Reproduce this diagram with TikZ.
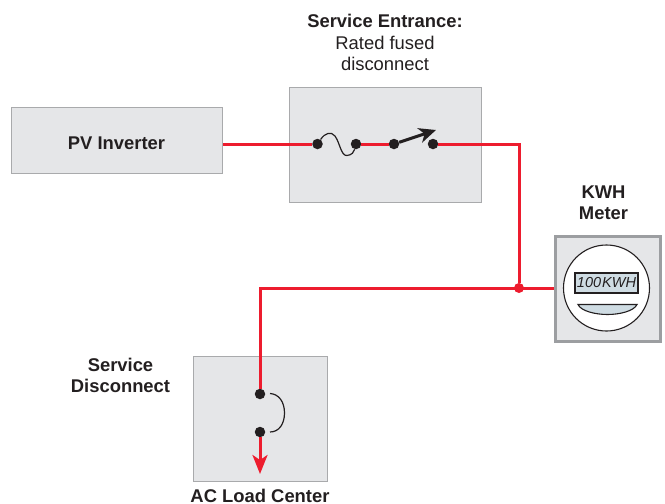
\documentclass[tikz,border=0pt]{standalone}
\usepackage{fontspec}
\setmainfont{Liberation Sans}
\usetikzlibrary{arrows.meta,calc}
\definecolor{boxfill}{HTML}{E5E6E8}
\definecolor{boxline}{HTML}{A9AAAC}
\definecolor{meterline}{HTML}{9C9EA1}
\definecolor{wire}{HTML}{ED1C2E}
\definecolor{lcd}{HTML}{CFDCE3}
\definecolor{ink}{HTML}{231F20}
\tikzset{
  panel/.style={draw=boxline,fill=boxfill,line width=1.4pt,inner sep=0pt,anchor=north west},
  dot/.style={circle,fill=ink,inner sep=0pt,minimum size=10.5pt},
  wireline/.style={draw=wire,line width=3pt},
  lab/.style={font=\fontsize{18.4}{21}\selectfont,text=ink,align=center,inner sep=0pt},
  blab/.style={lab,font=\fontsize{18.4}{21}\selectfont\bfseries},
}
\begin{document}
\begin{tikzpicture}[x=1pt,y=-1pt]
\useasboundingbox (0,0) rectangle (665,504);
% boxes
\node[panel,minimum width=211pt,minimum height=66pt] (pv) at (10.5,106.5) {};
\node[blab] at (116.5,143.5) {PV Inverter};
\node[panel,minimum width=192pt,minimum height=115pt] (se) at (288.5,86.5) {};
\node[panel,draw=meterline,line width=3pt,minimum width=105pt,minimum height=105pt] (meter) at (553.8,235) {};
\node[panel,minimum width=134pt,minimum height=125pt] (ac) at (192.5,355.5) {};
% anchors
\node[dot] (f1) at (317.5,144) {};
\node[dot] (f2) at (356,144) {};
\node[dot] (s1) at (394,144) {};
\node[dot] (s2) at (433,144) {};
\node[dot] (d1) at (260,394) {};
\node[dot] (d2) at (260,432) {};
\node[circle,fill=wire,inner sep=0pt,minimum size=10pt] (j) at (519,288) {};
\coordinate (tip) at (260,474);
% wires
\draw[wireline] (pv.east |- f1) -- (f1);
\draw[wireline] (f2) -- (s1);
\draw[wireline] (s2) -- (519,144) -- (j);
\draw[wireline] (meter.west |- j) -- (260,288) -- (d1);
\draw[draw=wire,line width=3pt,-{Stealth[length=19pt,width=15pt,inset=5pt]}] (d2) -- (tip);
% fuse
\draw[ink,line width=1.2pt] (f1) .. controls (325,133) and (331,131) .. (335,136)
  .. controls (340,143) and (341,156) .. (347,155.5)
  .. controls (352,155) and (354,152) .. (f2);
% switch
\draw[ink,line width=3pt,-{Stealth[length=17pt,width=15pt,inset=5pt]}] (s1) -- (436,130);
% link in disconnect
\draw[ink,line width=1.2pt] (270,393.5) .. controls (279,394) and (284.5,402) .. (284.5,413)
  .. controls (284.5,424) and (279,432) .. (270,432);
% meter
\node[circle,draw=ink,fill=white,line width=1.1pt,inner sep=0pt,minimum size=86pt] (dial) at (606.5,288) {};
\node[draw=ink,fill=lcd,line width=1.1pt,inner sep=0pt,minimum width=63pt,minimum height=20pt,
  font=\fontsize{14.5}{15}\selectfont\itshape,text=ink] (disp) at (606.5,283) {100\hspace{1pt}KWH};
\draw[ink,fill=lcd,line width=1.1pt] (578,304.5) -- (637,304.5)
  .. controls (634,311) and (620,314.5) .. (607.5,314.5)
  .. controls (595,314.5) and (581,311) .. (578,304.5) -- cycle;
% labels
\node[blab] at (385,21) {Service Entrance:};
\node[lab] at (385,53) {Rated fused\\disconnect};
\node[blab] at (603.5,202.5) {KWH\\Meter};
\node[blab] at (120.5,375.5) {Service\\Disconnect};
\node[blab] at (260,496) {AC Load Center};
\end{tikzpicture}
\end{document}
